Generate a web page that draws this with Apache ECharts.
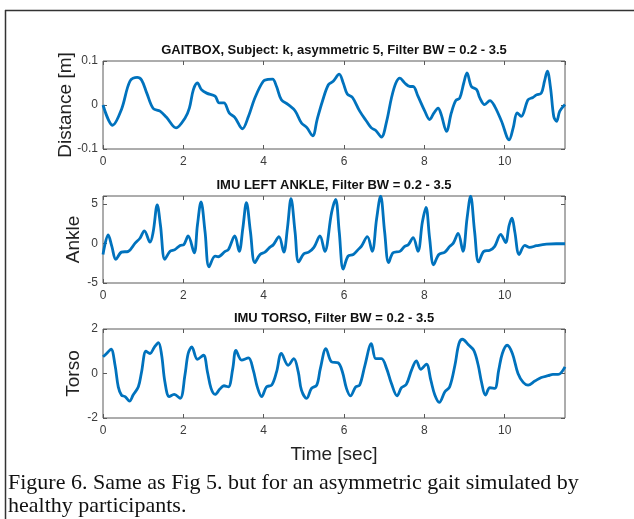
<!DOCTYPE html>
<html lang="en">
<head>
    <meta charset="UTF-8">
    <title>GAITBOX asymmetric 5</title>
    <script src="https://cdn.jsdelivr.net/npm/echarts@6/dist/echarts.min.js"></script>
    <style>
        html, body { margin: 0; padding: 0; background: #fff; }
        #main { width: 634px; height: 519px; }
    </style>
</head>
<body>
    <div id="main"></div>
<script>
    // 数据：时间 (s) 与各通道值
    var gaitT = [0, 0.24, 0.46, 0.67, 0.85, 0.96, 1.09, 1.25, 1.42, 1.58, 1.82, 2.04, 2.15, 2.25, 2.35, 2.45, 2.58, 2.79, 2.89, 3.01, 3.14, 3.28, 3.47, 3.62, 3.78, 3.99, 4.11, 4.22, 4.32, 4.44, 4.61, 4.78, 4.94, 5.07, 5.22, 5.33, 5.46, 5.61, 5.73, 5.88, 5.98, 6.08, 6.21, 6.39, 6.56, 6.68, 6.79, 6.93, 7.06, 7.18, 7.29, 7.39, 7.51, 7.64, 7.72, 7.84, 8.01, 8.13, 8.24, 8.34, 8.42, 8.55, 8.67, 8.78, 8.88, 8.98, 9.06, 9.17, 9.30, 9.38, 9.50, 9.63, 9.75, 9.92, 10.11, 10.21, 10.31, 10.41, 10.58, 10.70, 10.79, 10.91, 10.99, 11.06, 11.14, 11.22, 11.29, 11.37, 11.5];
    var gaitV = [0, -0.046, -0.010, 0.054, 0.063, 0.057, 0.027, -0.008, -0.014, -0.028, -0.052, -0.030, -0.007, 0.035, 0.050, 0.035, 0.027, 0.020, 0.005, 0.005, -0.018, -0.028, -0.054, -0.026, 0.016, 0.054, 0.058, 0.059, 0.042, 0.012, 0.001, -0.013, -0.041, -0.051, -0.070, -0.033, 0.008, 0.046, 0.054, 0.070, 0.050, 0.025, 0.017, -0.014, -0.037, -0.052, -0.058, -0.073, -0.037, 0.016, 0.050, 0.061, 0.050, 0.042, 0.042, 0.020, -0.014, -0.033, -0.018, -0.007, -0.022, -0.060, -0.018, 0.010, 0.016, 0.050, 0.073, 0.042, 0.035, 0.016, 0.001, 0.010, -0.003, -0.037, -0.079, -0.052, -0.018, -0.026, 0.012, 0.017, 0.023, 0.027, 0.054, 0.077, 0.039, -0.026, -0.037, -0.014, 0.001];

    var ankleT = [0, 0.13, 0.22, 0.32, 0.46, 0.63, 0.80, 0.92, 1.03, 1.17, 1.25, 1.35, 1.43, 1.54, 1.67, 1.79, 1.92, 2.01, 2.12, 2.27, 2.35, 2.44, 2.54, 2.64, 2.79, 2.87, 3.04, 3.12, 3.28, 3.39, 3.48, 3.57, 3.67, 3.78, 3.91, 4.03, 4.15, 4.24, 4.38, 4.50, 4.59, 4.68, 4.78, 4.87, 5.00, 5.12, 5.25, 5.40, 5.52, 5.69, 5.79, 5.88, 5.98, 6.10, 6.23, 6.35, 6.43, 6.58, 6.70, 6.81, 6.91, 7.01, 7.11, 7.22, 7.39, 7.51, 7.60, 7.72, 7.84, 7.95, 8.04, 8.13, 8.23, 8.36, 8.51, 8.63, 8.72, 8.84, 8.96, 9.06, 9.15, 9.25, 9.35, 9.48, 9.63, 9.75, 9.90, 10.02, 10.11, 10.18, 10.25, 10.36, 10.50, 10.62, 10.79, 11.04, 11.28, 11.5];
    var ankleV = [-1.4, 1.07, -0.37, -2.0, -1.1, -1.0, 0.04, 0.66, 1.6, 0.16, 1.48, 4.88, 2.3, -2.0, -1.0, -0.78, -0.25, -0.16, 0.94, -1.19, 2.3, 5.25, 1.48, -2.95, -1.6, -1.68, -1.0, -0.78, 0.94, -1.0, 1.9, 5.16, 1.48, -2.42, -1.4, -1.1, -0.5, -0.16, 0.86, -1.1, 1.9, 5.66, 1.48, -2.34, -1.3, -1.1, -0.5, 0.94, -1.0, 3.9, 5.57, 1.48, -3.24, -1.6, -1.4, -0.78, -0.37, 0.86, -1.0, 3.1, 5.98, 1.48, -2.42, -1.19, -1.0, -0.37, -0.16, 0.74, -1.0, 2.7, 4.55, 0.66, -2.7, -1.4, -1.1, -0.37, 0.04, 1.27, -1.0, 3.1, 5.98, 1.48, -2.34, -1.0, -0.86, -0.37, 1.15, 0.12, 2.3, 3.2, 1.48, -1.4, -0.25, -0.5, -0.29, -0.08, -0.04, -0.04];

    var torsoT = [0, 0.09, 0.20, 0.30, 0.38, 0.46, 0.55, 0.66, 0.75, 0.88, 0.96, 1.07, 1.17, 1.28, 1.38, 1.46, 1.54, 1.65, 1.77, 1.92, 2.04, 2.12, 2.21, 2.35, 2.50, 2.60, 2.69, 2.79, 2.91, 3.01, 3.12, 3.23, 3.31, 3.45, 3.62, 3.74, 3.84, 3.95, 4.07, 4.20, 4.32, 4.44, 4.61, 4.75, 4.86, 4.94, 5.07, 5.19, 5.32, 5.41, 5.55, 5.69, 5.85, 5.96, 6.06, 6.16, 6.29, 6.39, 6.52, 6.68, 6.79, 6.93, 7.06, 7.18, 7.32, 7.43, 7.55, 7.68, 7.80, 7.91, 8.05, 8.16, 8.26, 8.37, 8.51, 8.63, 8.76, 8.86, 8.95, 9.09, 9.23, 9.34, 9.42, 9.52, 9.63, 9.75, 9.85, 9.94, 10.06, 10.19, 10.33, 10.46, 10.58, 10.75, 10.91, 11.08, 11.20, 11.33, 11.5];
    var torsoV = [0.75, 0.9, 1.09, 0.37, -0.6, -0.97, -1.04, -1.24, -0.97, -0.6, 0.07, 1.0, 0.9, 1.19, 1.39, 0.82, -0.37, -1.04, -0.94, -1.12, -0.07, 0.9, 1.19, 0.64, 0.82, 0.07, -0.67, -0.94, -0.70, -0.55, -0.6, 0.22, 1.04, 0.6, 0.7, 0.15, -0.6, -1.04, -0.6, -0.52, 0.07, 0.9, 0.37, 0.67, 0.07, -0.75, -1.12, -0.67, -0.52, 0.22, 1.12, 0.52, 0.48, 0.07, -0.67, -1.01, -0.6, -0.52, 0.37, 1.34, 0.67, 0.67, 0.22, -0.45, -1.0, -0.64, -0.49, 0.15, 0.57, 0.19, 0.42, -0.3, -0.97, -1.3, -0.82, -0.6, 0.37, 1.34, 1.54, 1.3, 1.04, 0.37, -0.37, -0.97, -0.64, -0.67, 0.15, 0.9, 1.27, 0.9, 0.0, -0.4, -0.52, -0.34, -0.18, -0.1, -0.04, -0.04, 0.30];

    var xTicks = [0, 2, 4, 6, 8, 10];
    var plotTitles = [
        'GAITBOX, Subject: k, asymmetric 5, Filter BW = 0.2 - 3.5',
        'IMU LEFT ANKLE, Filter BW = 0.2 - 3.5',
        'IMU TORSO, Filter BW = 0.2 - 3.5'
    ];
    var yNames = ['Distance [m]', 'Ankle', 'Torso'];
    var yRanges = [[-0.1, 0.1, 0.1], [-5, 6, 5], [-2, 2, 2]];
    var xName = 'Time [sec]';
    var caption = [
        'Figure 6. Same as Fig 5. but for an asymmetric gait simulated by',
        'healthy participants.'
    ];

    function pairs(t, v) {
        var out = [];
        for (var i = 0; i < t.length; i++) out.push([t[i], v[i]]);
        return out;
    }

    var grids = [
        {left: 103, width: 462, top: 61, height: 88},
        {left: 103, width: 462, top: 196, height: 87},
        {left: 103, width: 462, top: 329, height: 89}
    ];
    var axisGray = '#5a5a5a';
    var labelGray = '#3c3c3c';

    var xAxes = [], yAxes = [], series = [], titles = [];
    var datasets = [pairs(gaitT, gaitV), pairs(ankleT, ankleV), pairs(torsoT, torsoV)];

    grids.forEach(function(g, i) {
        g.show = true;
        g.borderColor = axisGray;
        g.borderWidth = 1;
        g.containLabel = false;

        // 下方 x 轴（带刻度标签）
        xAxes.push({
            type: 'value', gridIndex: i, position: 'bottom',
            min: 0, max: 11.5, interval: 2,
            name: i === 2 ? xName : '',
            nameLocation: 'middle', nameGap: 27,
            nameTextStyle: {fontFamily: 'Liberation Sans', fontSize: 19, color: '#222'},
            axisLine: {show: false, onZero: false},
            axisTick: {inside: true, length: 4, lineStyle: {color: axisGray}},
            axisLabel: {
                margin: 7, fontFamily: 'Liberation Sans', fontSize: 12, color: labelGray,
                showMaxLabel: false,
                formatter: function(v) { return xTicks.indexOf(v) >= 0 ? String(v) : ''; }
            },
            splitLine: {show: false}
        });
        // 上方镜像刻度
        xAxes.push({
            type: 'value', gridIndex: i, position: 'top',
            min: 0, max: 11.5, interval: 2,
            axisLine: {show: false, onZero: false},
            axisTick: {inside: true, length: 4, lineStyle: {color: axisGray}},
            axisLabel: {show: false},
            splitLine: {show: false}
        });

        var r = yRanges[i];
        yAxes.push({
            type: 'value', gridIndex: i, position: 'left',
            min: r[0], max: r[1], interval: r[2],
            name: yNames[i], nameLocation: 'middle', nameGap: i === 0 ? 28 : 20,
            nameMoveOverlap: false,
            nameTextStyle: {fontFamily: 'Liberation Sans', fontSize: 19, color: '#222'},
            axisLine: {show: false, onZero: false},
            axisTick: {inside: true, length: 4, lineStyle: {color: axisGray}},
            axisLabel: {
                margin: 5, fontFamily: 'Liberation Sans', fontSize: 12, color: labelGray,
                formatter: function(v) {
                    var ok = Math.abs(Math.round((v - r[0]) / r[2]) * r[2] + r[0] - v) < 1e-9;
                    return ok && v <= r[0] + 2 * r[2] + 1e-9 ? String(Math.round(v * 10) / 10) : '';
                }
            },
            splitLine: {show: false}
        });
        yAxes.push({
            type: 'value', gridIndex: i, position: 'right',
            min: r[0], max: r[1], interval: r[2],
            axisLine: {show: false, onZero: false},
            axisTick: {inside: true, length: 4, lineStyle: {color: axisGray}},
            axisLabel: {show: false},
            splitLine: {show: false}
        });

        series.push({
            type: 'line', xAxisIndex: i * 2, yAxisIndex: i * 2,
            data: datasets[i], smooth: 0.35, showSymbol: false, clip: true,
            lineStyle: {color: '#0072BD', width: 2.8}
        });

        titles.push({
            text: plotTitles[i], left: 329, top: g.top - 22, textAlign: 'center',
            textStyle: {fontFamily: 'Liberation Sans', fontSize: 13, fontWeight: 'bold', color: '#111'}
        });
    });

    var myChart = echarts.init(document.getElementById('main'), null, {renderer: 'canvas'});
    myChart.setOption({
        animation: false,
        backgroundColor: '#fff',
        title: titles,
        grid: grids,
        xAxis: xAxes,
        yAxis: yAxes,
        series: series,
        graphic: [
            // 外框（左边与上边）
            {type: 'line', shape: {x1: 5.5, y1: 10, x2: 5.5, y2: 519}, style: {stroke: '#333', lineWidth: 1.5}},
            {type: 'line', shape: {x1: 5, y1: 10.5, x2: 634, y2: 10.5}, style: {stroke: '#333', lineWidth: 1.5}},
            {type: 'text', left: 8, top: 472, style: {text: caption[0], font: '22px "Liberation Serif"', fill: '#111'}},
            {type: 'text', left: 8, top: 495, style: {text: caption[1], font: '22px "Liberation Serif"', fill: '#111'}}
        ]
    });
</script>
</body>
</html>
